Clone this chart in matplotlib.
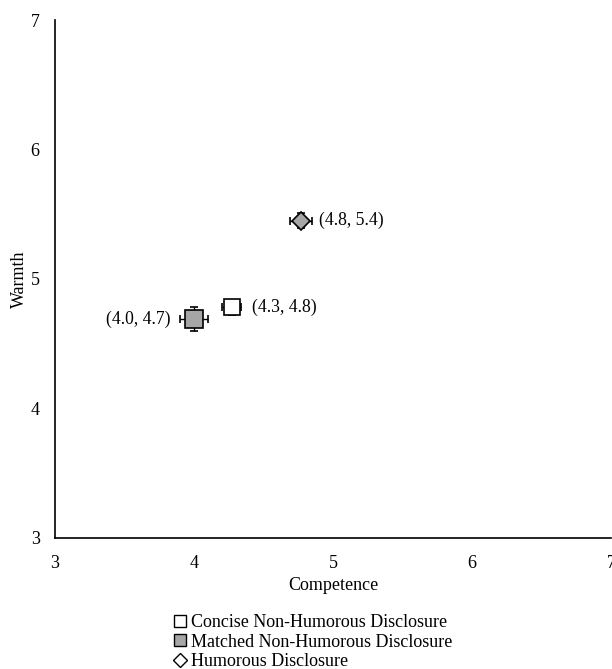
import matplotlib.pyplot as plt
from matplotlib.lines import Line2D

plt.rcParams['font.family'] = ['Liberation Serif', 'DejaVu Serif']

# data
names = ['Concise Non-Humorous Disclosure', 'Matched Non-Humorous Disclosure', 'Humorous Disclosure']
competence = [4.27, 4.00, 4.77]
warmth = [4.78, 4.69, 5.45]
comp_err = [0.07, 0.10, 0.08]
warm_err = [0.06, 0.09, 0.06]
labels = ['(4.3, 4.8)', '(4.0, 4.7)', '(4.8, 5.4)']

markers = ['s', 's', 'D']
faces = ['white', '#a6a6a6', '#a6a6a6']
legend_faces = ['white', '#a6a6a6', 'white']
sizes = [12, 13, 9]

fig = plt.figure(figsize=(6.12, 6.69), dpi=100)
ax = fig.add_axes([0.0899, 0.196, 0.9085, 0.774])

for i in range(3):
    ax.errorbar(competence[i], warmth[i], xerr=comp_err[i], yerr=warm_err[i],
                fmt='none', ecolor='black', elinewidth=1, capsize=3, capthick=1.2, zorder=2)
    ax.plot(competence[i], warmth[i], marker=markers[i], ms=sizes[i], mfc=faces[i],
            mec='black', mew=1.2, ls='none', zorder=3)

ax.annotate(labels[0], (competence[0], warmth[0]), xytext=(15, 0), textcoords='offset points',
            va='center', ha='left', fontsize=12.7)
ax.annotate(labels[1], (competence[1], warmth[1]), xytext=(-17, 0), textcoords='offset points',
            va='center', ha='right', fontsize=12.7)
ax.annotate(labels[2], (competence[2], warmth[2]), xytext=(13, 0), textcoords='offset points',
            va='center', ha='left', fontsize=12.7)

ax.set_xlim(3, 7)
ax.set_ylim(3, 7)
ax.set_xticks([3, 4, 5, 6, 7])
ax.set_yticks([3, 4, 5, 6, 7])
ax.tick_params(length=0, labelsize=13, pad=12)
ax.tick_params(axis='y', pad=11)
for s in ['top', 'right']:
    ax.spines[s].set_visible(False)
ax.spines['left'].set_linewidth(1.2)
ax.spines['bottom'].set_linewidth(1.2)
ax.set_xlabel('Competence', fontsize=13, labelpad=4)
ax.set_ylabel('Warmth', fontsize=13, labelpad=2)

handles = [Line2D([], [], marker=markers[i], ms=9 if i < 2 else 7, mfc=legend_faces[i],
                  mec='black', mew=1, ls='none') for i in range(3)]
fig.legend(handles, names, loc='upper left', bbox_to_anchor=(165 / 612, 1 - 605 / 669),
           frameon=False, fontsize=13, handlelength=0.7, handletextpad=0.25,
           labelspacing=0.15, borderpad=0)

fig.savefig('out.png', dpi=100)
